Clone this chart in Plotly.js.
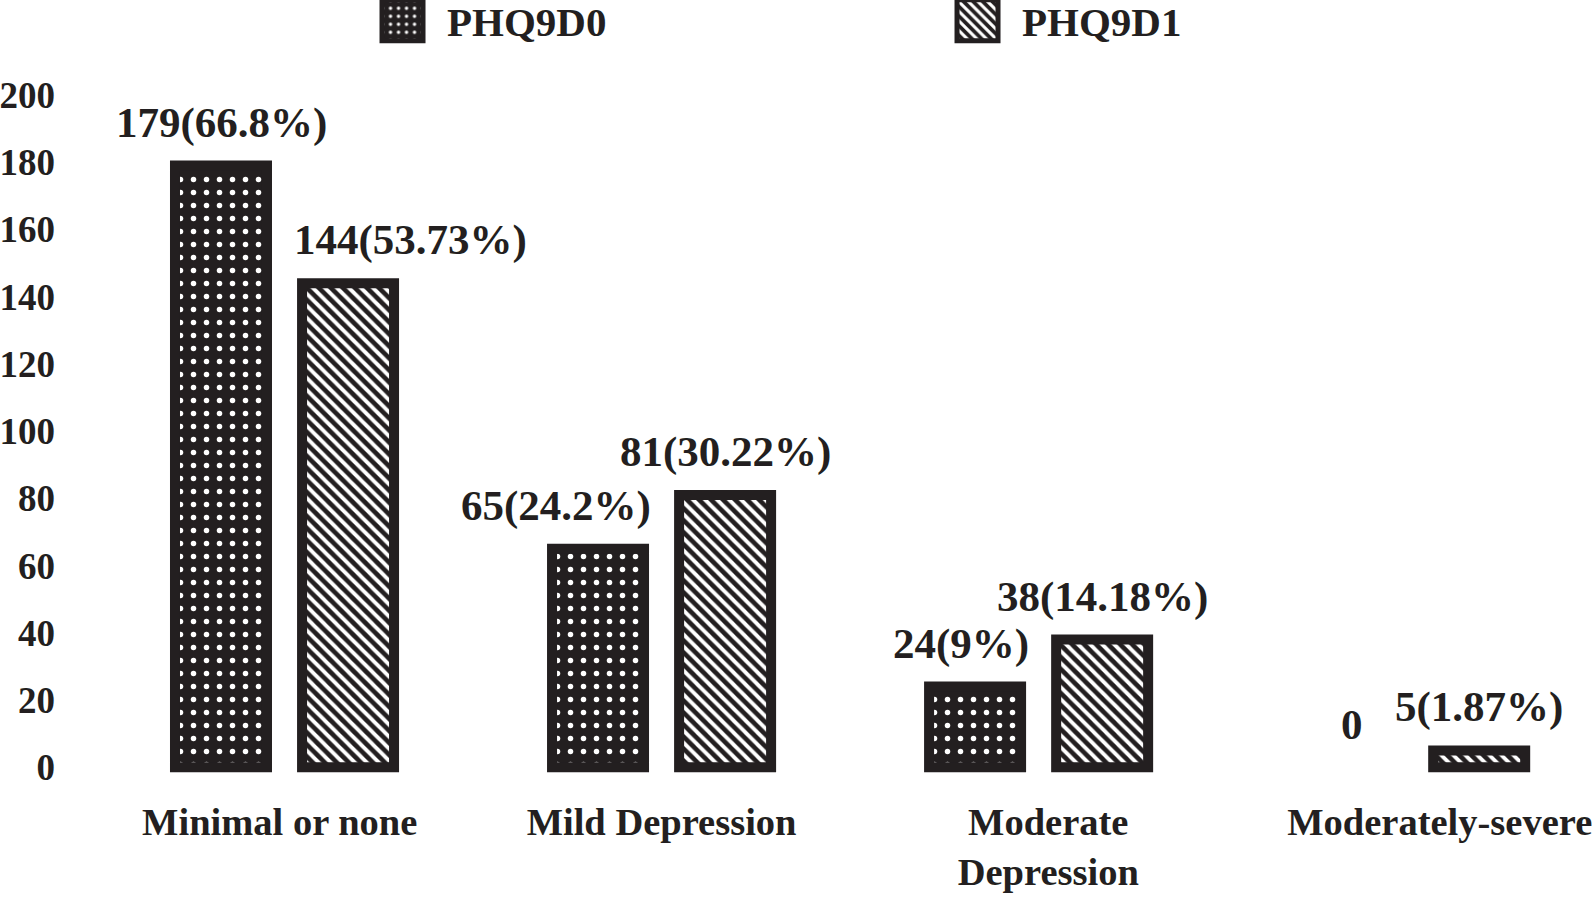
<!DOCTYPE html>
<html>
<head>
<meta charset="utf-8">
<script src="https://cdn.plot.ly/plotly-3.0.1.min.js"></script>
<style>html,body{margin:0;padding:0;background:#fff;}#chart{width:1594px;height:897px;}</style>
</head>
<body>
<div id="chart"></div>
<script>
// ---- data ----
const categories = ["Minimal or none", "Mild Depression", "Moderate Depression", "Moderately-severe"];
const tickLabels = ["Minimal or none\u00a0", "Mild Depression", "\u00a0\u00a0Moderate<br>\u00a0\u00a0Depression", "\u00a0\u00a0\u00a0\u00a0\u00a0Moderately-severe"];
const seriesNames = ["PHQ9D0", "PHQ9D1"];
const phq9d0 = [179, 65, 24, 0];
const phq9d1 = [144, 81, 38, 5];
const phq9d0Labels = ["179(66.8%)", "65(24.2%)", "24(9%)", "0"];
const phq9d1Labels = ["144(53.73%)", "81(30.22%)", "38(14.18%)", "5(1.87%)"];
const yTicks = [0, 20, 40, 60, 80, 100, 120, 140, 160, 180, 200];

// ---- styling ----
const INK = "#231f20";
const FONT = "Liberation Serif";
const labelNudge0 = [0, -42, -14, 0];   // horizontal label nudges (px)
const labelNudge1 = [62, 0, 0, 0];
const SLOT = 63.5;                     // half distance between grouped bar centres (px)
const borderFor = vals => vals.map(v => (v > 0 ? 10 : 0));

const traces = [
  {
    type: "bar", name: seriesNames[0], x: categories, y: phq9d0, cliponaxis: false,
    marker: {
      color: INK,
      line: {color: INK, width: borderFor(phq9d0)},
      pattern: {shape: ".", fgcolor: "#ffffff", bgcolor: INK, size: 13, solidity: 0.14, fillmode: "replace"}
    },
    hoverinfo: "skip"
  },
  {
    type: "bar", name: seriesNames[1], x: categories, y: phq9d1, cliponaxis: false,
    marker: {
      color: INK,
      line: {color: INK, width: borderFor(phq9d1)},
      pattern: {shape: "\\", fgcolor: "#ffffff", bgcolor: INK, size: 8.5, solidity: 0.45, fillmode: "replace"}
    },
    hoverinfo: "skip"
  }
];

const annotations = [];
categories.forEach((c, i) => {
  annotations.push({x: c, y: phq9d0[i], xref: "x", yref: "y", text: phq9d0Labels[i], showarrow: false,
    xshift: -SLOT + labelNudge0[i], yshift: 43, yanchor: "middle", xanchor: "center",
    font: {family: FONT, size: 43, color: INK, weight: 700}});
  annotations.push({x: c, y: phq9d1[i], xref: "x", yref: "y", text: phq9d1Labels[i], showarrow: false,
    xshift: SLOT + labelNudge1[i], yshift: 43, yanchor: "middle", xanchor: "center",
    font: {family: FONT, size: 43, color: INK, weight: 700}});
});

const layout = {
  width: 1594, height: 897,
  paper_bgcolor: "#ffffff", plot_bgcolor: "#ffffff",
  margin: {l: 96, r: 0, t: 95, b: 123, pad: 0},
  font: {family: FONT, color: INK, weight: 700},
  barmode: "group", bargap: 0.326, bargroupgap: 0.276,
  showlegend: true,
  legend: {
    orientation: "h", xref: "container", yref: "container",
    x: 0.2246, xanchor: "left", y: 0.977, yanchor: "middle",
    font: {family: FONT, size: 41, color: INK, weight: 700},
    itemwidth: 79, entrywidth: 481, itemclick: false, itemdoubleclick: false,
    bgcolor: "rgba(0,0,0,0)"
  },
  xaxis: {
    type: "category", range: [-0.5, 3.473],
    tickvals: categories, ticktext: tickLabels,
    showgrid: false, zeroline: false, showline: false, ticks: "",
    tickfont: {family: FONT, size: 38.5, color: INK, weight: 700},
    ticklabelstandoff: 21, fixedrange: true
  },
  yaxis: {
    range: [-2, 200], tickvals: yTicks,
    showgrid: false, zeroline: false, showline: false, ticks: "",
    tickfont: {family: FONT, size: 37, color: INK, weight: 700},
    ticklabelstandoff: 40, fixedrange: true
  },
  annotations: annotations
};

Plotly.newPlot("chart", traces, layout, {displayModeBar: false, staticPlot: true}).then(gd => {
  // enlarge the legend swatches to match the reference's big square keys
  gd.querySelectorAll(".legend .legendpoints path").forEach(p => {
    p.setAttribute("d", "M20.5,20.5H-20.5V-20.5H20.5Z");
  });
});
</script>
</body>
</html>
